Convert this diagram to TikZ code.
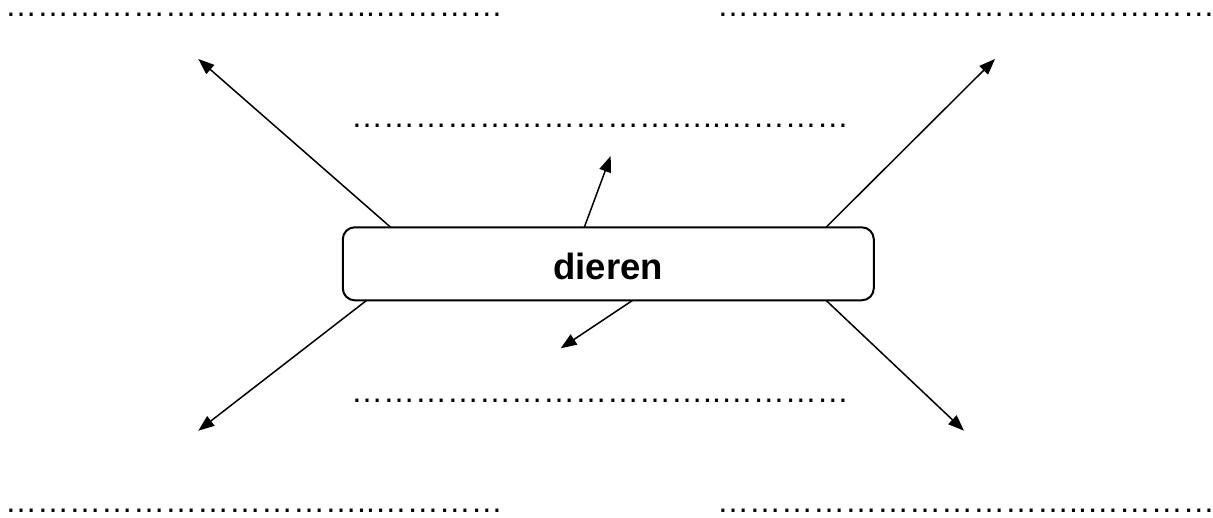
\documentclass[tikz,border=0pt]{standalone}
\usepackage{fontspec}
\setmainfont{Liberation Sans}
\usetikzlibrary{arrows.meta}
\newcommand\elp{…}
\newcommand\dotrow{\elp\elp\elp\elp\elp\elp\elp\elp\elp\elp\elp..\elp\elp\elp\elp}
\begin{document}
\begin{tikzpicture}[x=1pt,y=-1pt,
  dots/.style={anchor=base west,inner sep=0pt,font=\fontsize{32}{32}\selectfont},
  mainbox/.style={draw,line width=2pt,rounded corners=12pt,minimum width=531pt,minimum height=73pt,
    inner sep=0pt,text height=31pt,text depth=0pt,font=\fontsize{36.5}{36.5}\selectfont\bfseries},
  arr/.style={line width=1.5pt,-{Triangle[length=16pt,width=12pt]}}]
\useasboundingbox (0,0) rectangle (1213,517);
\node[dots] (t1) at (5,16.5) {\dotrow};
\node[dots] (t2) at (717,16.5) {\dotrow};
\node[dots] (m1) at (351,127.5) {\dotrow};
\node[dots] (m2) at (351,402) {\dotrow};
\node[dots] (u1) at (5,512.5) {\dotrow};
\node[dots] (u2) at (717,512.5) {\dotrow};
\node[mainbox] (b) at (608.3,263.8) {dieren};
\coordinate (s1) at (390.7,227.3);
\coordinate (s2) at (826,227.3);
\coordinate (s3) at (366.7,300.3);
\coordinate (s4) at (826,300.3);
\coordinate (s5) at (584.3,227.3);
\coordinate (s6) at (632.7,300.3);
\coordinate (e1) at (198.3,59);
\coordinate (e2) at (995,59);
\coordinate (e3) at (198.3,430.7);
\coordinate (e4) at (964,430.7);
\coordinate (e5) at (610.7,156);
\coordinate (e6) at (560.7,348.3);
\foreach \i in {1,...,6} {\draw[arr] (s\i) -- (e\i);}
\end{tikzpicture}
\end{document}
